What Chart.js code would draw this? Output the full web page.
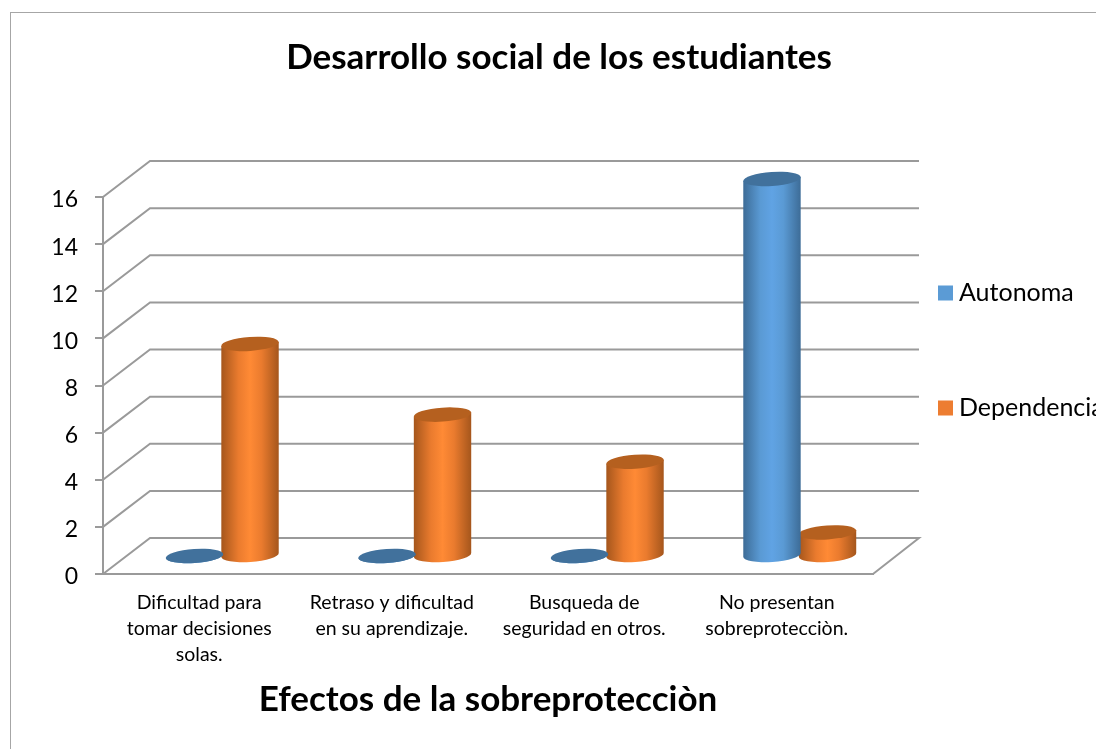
<!DOCTYPE html>
<html lang="es">
<head>
<meta charset="utf-8">
<title>Desarrollo social de los estudiantes</title>
<script src="https://cdn.jsdelivr.net/npm/chart.js@4"></script>
<style>
  html, body { margin: 0; padding: 0; background: #fff; overflow: hidden; }
  #frame { position: absolute; left: 10px; top: 12px; right: -5px; bottom: -5px; border: 1px solid #a6a6a6; }
  #wrap { position: absolute; left: 0; top: 0; width: 1096px; height: 749px; }
</style>
</head>
<body>
<div id="frame"></div>
<div id="wrap"><canvas id="chart" width="1096" height="749"></canvas></div>
<script>
const categories = [
  ['Dificultad para', 'tomar decisiones', 'solas.'],
  ['Retraso y dificultad', 'en su aprendizaje.'],
  ['Busqueda de', 'seguridad en otros.'],
  ['No presentan', 'sobreprotecciòn.']
];
const autonoma = [0, 0, 0, 16];
const dependencia = [9, 6, 4, 1];

const FONT = 'Lato, Carlito, "Open Sans", sans-serif';
const GRID_COLOR = '#9a9a9a';
const DEPTH_X = 47;
const DEPTH_Y = -36;
const BAR_SHIFT_X = 23;
const BAR_SHIFT_Y = -18;

// shades for the cylinders, by dataset
const shades = [
  { edge: '#3d6c97', soft: '#5a9ad4', mid: '#60a3e4', cap: '#41719c' },
  { edge: '#a5561c', soft: '#ea7b2e', mid: '#ff8a35', cap: '#b5601f' }
];

function drawCylinder(ctx, cx, top, base, width, shade) {
  const rx = width / 2;
  const ry = 7;
  const tilt = -0.07;
  const dx = Math.cos(tilt) * rx;
  const dy = Math.sin(tilt) * rx;

  const grad = ctx.createLinearGradient(cx - rx, 0, cx + rx, 0);
  grad.addColorStop(0, shade.edge);
  grad.addColorStop(0.3, shade.soft);
  grad.addColorStop(0.5, shade.mid);
  grad.addColorStop(0.7, shade.soft);
  grad.addColorStop(1, shade.edge);

  ctx.beginPath();
  ctx.moveTo(cx - dx, top - dy);
  ctx.lineTo(cx + dx, top + dy);
  ctx.ellipse(cx, base, rx, ry, tilt, 0, Math.PI, false);
  ctx.closePath();
  ctx.fillStyle = grad;
  ctx.fill();

  ctx.beginPath();
  ctx.ellipse(cx, top, rx, ry, tilt, 0, Math.PI * 2);
  ctx.fillStyle = shade.cap;
  ctx.fill();
}

// back wall, side wall and floor of the 3D box
const wallsPlugin = {
  id: 'walls',
  afterLayout(chart) {
    // legend and title sit where the layout would not put them
    const legend = chart.legend;
    legend.left = 854.5;
    legend.top = 131;
    legend.bottom = 570;
    chart.titleBlock.left = 22;
    chart.titleBlock.right = 1096;
  },
  beforeDatasetsDraw(chart) {
    const { ctx, chartArea, scales } = chart;
    const { left, right, bottom } = chartArea;
    ctx.save();
    ctx.strokeStyle = GRID_COLOR;
    ctx.lineWidth = 2;
    scales.y.ticks.forEach((tick) => {
      const y = scales.y.getPixelForValue(tick.value);
      ctx.beginPath();
      ctx.moveTo(left, y);
      ctx.lineTo(left + DEPTH_X, y + DEPTH_Y);
      ctx.lineTo(right + DEPTH_X - 1, y + DEPTH_Y);
      if (tick.value === 0) {
        ctx.lineTo(right, bottom);
      }
      ctx.stroke();
    });
    ctx.restore();
  },
  beforeDatasetDraw(chart, args) {
    const { ctx } = chart;
    const meta = chart.getDatasetMeta(args.index);
    ctx.save();
    meta.data.forEach((bar) => {
      drawCylinder(
        ctx,
        bar.x + BAR_SHIFT_X,
        bar.y + BAR_SHIFT_Y,
        bar.base + BAR_SHIFT_Y,
        bar.width,
        shades[args.index]
      );
    });
    ctx.restore();
    return false;
  }
};

new Chart(document.getElementById('chart'), {
  type: 'bar',
  data: {
    labels: categories,
    datasets: [
      { label: 'Autonoma', data: autonoma, backgroundColor: '#5b9bd5' },
      { label: 'Dependencia', data: dependencia, backgroundColor: '#ed7d31' }
    ]
  },
  plugins: [wallsPlugin],
  options: {
    responsive: false,
    animation: false,
    layout: { padding: { left: 22, top: 0, right: 0, bottom: 0 } },
    datasets: { bar: { categoryPercentage: 0.577, barPercentage: 1.036 } },
    plugins: {
      tooltip: { enabled: false },
      title: {
        display: true,
        text: 'Desarrollo social de los estudiantes',
        color: '#000',
        font: { family: FONT, size: 35, weight: 'bold' },
        padding: { top: 37, bottom: 118 }
      },
      legend: {
        position: 'right',
        maxWidth: 223,
        labels: {
          color: '#000',
          font: { family: FONT, size: 25 },
          usePointStyle: true,
          pointStyle: 'rect',
          boxHeight: 15,
          boxWidth: 2,
          padding: 90
        }
      }
    },
    scales: {
      x: {
        grid: { display: false },
        border: { display: true, color: GRID_COLOR, width: 2 },
        ticks: {
          color: '#000',
          maxRotation: 0,
          autoSkip: false,
          padding: 8,
          font: { family: FONT, size: 19.5, lineHeight: 1.33 }
        },
        title: {
          display: true,
          text: 'Efectos de la sobreprotecciòn',
          color: '#000',
          font: { family: FONT, size: 35, weight: 'bold' },
          padding: { bottom: 28 }
        },
        afterFit(scale) { scale.height = 175; }
      },
      y: {
        min: 0,
        max: 16,
        grid: { drawOnChartArea: false, drawTicks: true, tickLength: 8, color: GRID_COLOR, lineWidth: 2 },
        border: { display: true, color: GRID_COLOR, width: 2 },
        ticks: {
          stepSize: 2,
          color: '#000',
          padding: 17,
          labelOffset: 3,
          font: { family: FONT, size: 23 }
        },
        afterFit(scale) { scale.width = 81; }
      }
    }
  }
});
</script>
</body>
</html>
